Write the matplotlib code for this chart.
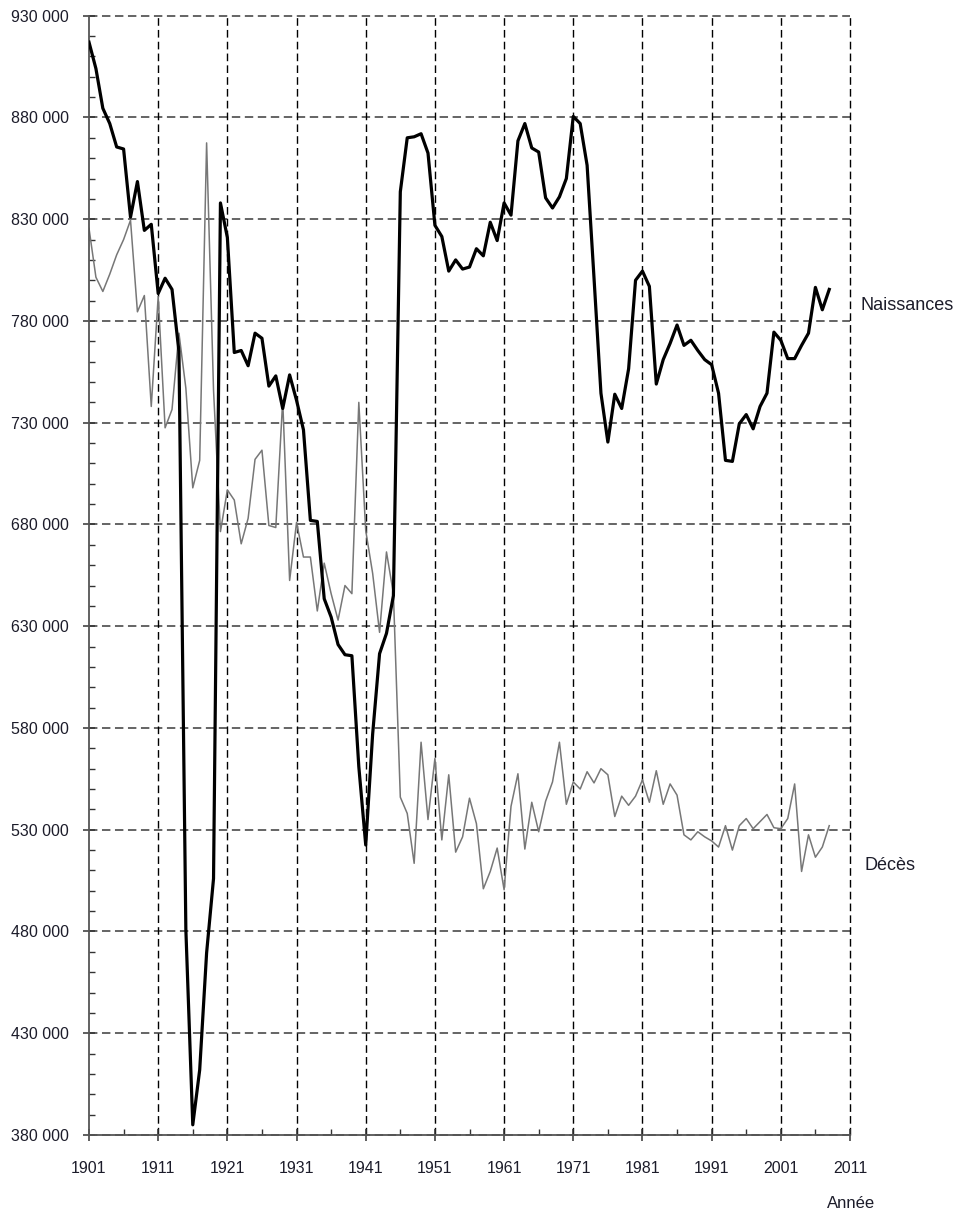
import matplotlib
matplotlib.use('Agg')
import matplotlib.pyplot as plt
from matplotlib.ticker import MultipleLocator, FuncFormatter

plt.rcParams['font.family'] = ['Liberation Sans', 'DejaVu Sans']

# Years 1901-2008
annees = list(range(1901, 2009))

# Naissances (thousands)
naissances = [
    917, 904, 884.5, 877, 865.5, 864.5, 831, 848.5, 824.5, 827.5,
    793.5, 801, 795.5, 765, 481, 385, 412, 469.5, 506, 838,
    821, 764.5, 765.5, 758, 774, 771.5, 748, 753, 737, 753.5,
    741, 726.5, 682, 681.5, 643.5, 634.5, 621, 616, 615.5, 561,
    522.5, 577, 616.5, 626.5, 645, 843.5, 870, 870.5, 872, 862.5,
    827, 821.5, 804.5, 810, 805.5, 806.5, 815.5, 812, 828.5, 819.5,
    838, 832, 868.5, 877, 865, 863, 840.5, 835.5, 841, 850,
    880.5, 877, 856.5, 801, 744.5, 720.5, 744, 737, 756.5, 800,
    804.5, 797, 749, 761, 769, 778, 768, 770.5, 765.5, 761,
    758.5, 744.5, 711.5, 711, 729.5, 734, 727, 738, 744.5, 774.5,
    770.5, 761.5, 761.5, 768, 774, 796.5, 785.5, 795.5,
]

# Deces (thousands)
deces = [
    825.5, 801.5, 794.5, 803, 812.5, 820, 829.5, 784.5, 792.5, 738,
    792, 727.5, 736.5, 774, 747, 698, 711.5, 867.5, 746, 676.5,
    697, 692, 670.5, 683, 712, 716.5, 679.5, 678.5, 741, 652.5,
    681, 664, 664, 637.5, 661, 646, 633, 650, 646, 740,
    677, 656, 627, 666.5, 646, 546, 538, 513.5, 573, 535,
    565, 525, 557, 519, 526.5, 545.5, 533, 501, 509.5, 521,
    500.5, 541.5, 557.5, 520.5, 543.5, 529, 544, 553.5, 573, 542.5,
    553.5, 550, 558.5, 553, 560, 557, 536.5, 546.5, 542, 546.5,
    554.5, 543.5, 559, 542.5, 552.5, 547, 527.5, 525, 529, 526.5,
    524.5, 521.5, 532, 520, 532, 535.5, 530.5, 534, 537.5, 531,
    530.5, 535.5, 552.5, 509.5, 527.5, 516.5, 521.5, 532,
]

naissances = [v * 1000 for v in naissances]
deces = [v * 1000 for v in deces]

fig = plt.figure(figsize=(9.56, 12.09), dpi=100)
ax = fig.add_axes([89/956, 1 - 1135/1209, (850-89)/956, (1135-15.7)/1209])

ax.set_xlim(1901, 2011)
ax.set_ylim(380000, 930000)

# dashed grid
for yv in range(380000, 930001, 50000):
    ax.axhline(yv, color='#3a3a3a', lw=1.1, ls=(0, (5.5, 3)), zorder=1, clip_on=False)
for xv in range(1911, 2012, 10):
    ax.axvline(xv, color='black', lw=1.0, ls=(0, (5.5, 3)), zorder=1, clip_on=False)

ax.plot(annees, deces, color='#777777', lw=1.1, zorder=2)
ax.plot(annees, naissances, color='black', lw=2.3, zorder=3)

for s in ['top', 'right']:
    ax.spines[s].set_visible(False)
for s in ['left', 'bottom']:
    ax.spines[s].set_color('#555555')
    ax.spines[s].set_linewidth(1.3)

ax.xaxis.set_major_locator(MultipleLocator(10))
ax.xaxis.set_minor_locator(MultipleLocator(5))
ax.set_xticks(range(1901, 2012, 10))
ax.set_xticks(range(1906, 2012, 10), minor=True)
ax.set_yticks(range(380000, 930001, 50000))
ax.set_yticks(range(380000, 930001, 10000), minor=True)
ax.yaxis.set_major_formatter(FuncFormatter(lambda v, p: f'{int(v):,}'.replace(',', ' ')))

ax.tick_params(axis='both', which='major', direction='inout', length=9, width=1.1,
               color='#333333', labelsize=11.5, labelcolor='#1c1c2a')
ax.tick_params(axis='x', which='major', pad=14)
ax.tick_params(axis='y', which='major', pad=10)
ax.tick_params(axis='both', which='minor', direction='in', length=4, width=1.0, color='#333333')

# series labels
fig.text(860/956, 1 - 305/1209, 'Naissances', fontsize=13, ha='left', va='center', color='#1c1c2a')
fig.text(864/956, 1 - 865/1209, 'Décès', fontsize=13, ha='left', va='center', color='#1c1c2a')
fig.text(851/956, 1 - 1203/1209, 'Année', fontsize=12, ha='center', va='center', color='#1c1c2a')

fig.savefig('out.png', dpi=100, facecolor='white')
